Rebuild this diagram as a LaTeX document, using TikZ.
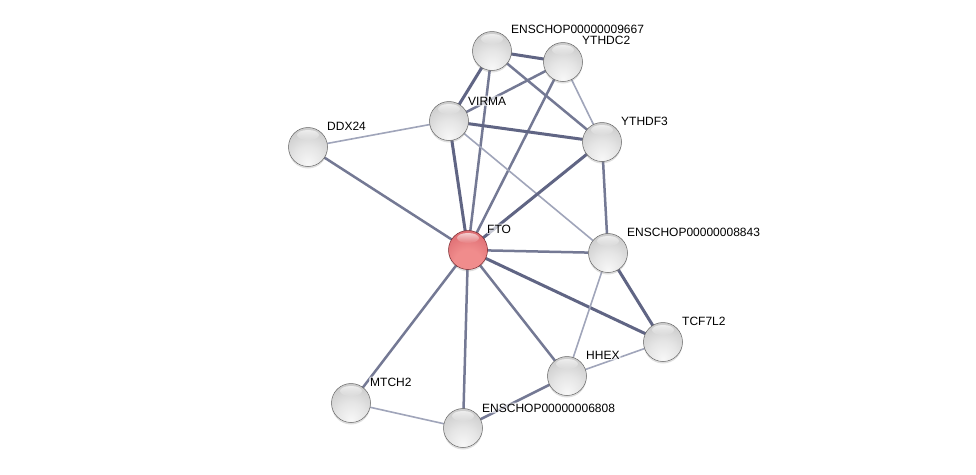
\documentclass[tikz,border=0pt]{standalone}
\usepackage{fontspec}
\setmainfont{Liberation Sans}
\usetikzlibrary{shadows,fadings}
\definecolor{edgeA}{RGB}{96,101,132}
\definecolor{edgeB}{RGB}{116,121,148}
\definecolor{edgeC}{RGB}{160,165,186}
\definecolor{rA}{RGB}{240,140,140}
\definecolor{rB}{RGB}{222,110,115}
\definecolor{rC}{RGB}{198,82,90}
\definecolor{rD}{RGB}{150,50,58}
\pgfdeclareradialshading{gsphere}{\pgfpoint{0bp}{-22bp}}{color(0bp)=(white!97!black); color(18bp)=(white!90!black); color(36bp)=(white!80!black); color(52bp)=(white!72!black); color(66bp)=(white!55!black); color(80bp)=(white!45!black)}
\pgfdeclareradialshading{rsphere}{\pgfpoint{0bp}{-22bp}}{color(0bp)=(rA); color(18bp)=(rA); color(36bp)=(rB); color(52bp)=(rC); color(66bp)=(rD); color(80bp)=(rD)}
\tikzfading[name=hlfade, top color=transparent!35, bottom color=transparent!100]
\pgfdeclarelayer{bg}
\pgfdeclarelayer{edges}
\pgfsetlayers{bg,edges,main}
\tikzset{
  ball/.style={circle, minimum size=39pt, inner sep=0pt, shading=gsphere, draw=white!40!black, line width=0.5pt,
    drop shadow={opacity=0.25, shadow xshift=0pt, shadow yshift=-2pt}},
  redball/.style={ball, shading=rsphere, draw=rD!80!black},
  lbl/.style={anchor=base west, font=\fontsize{12}{14}\selectfont, inner sep=1pt, fill=white, fill opacity=0.65, text opacity=1, rounded corners=2pt},
  eA/.style={draw=edgeA, line width=3pt},
  eB/.style={draw=edgeB, line width=2.5pt},
  eC/.style={draw=edgeC, line width=1.6pt},
}
\newcommand{\hl}[1]{\fill[white, path fading=hlfade] ([yshift=12pt]#1.center) ellipse (11pt and 5pt);}
\begin{document}
\begin{tikzpicture}[x=1pt,y=-1pt]
\useasboundingbox (0,0) rectangle (976,474);
\begin{pgfonlayer}{bg}
\fill[white] (0,0) rectangle (976,474);
\end{pgfonlayer}
% nodes
\node[ball] (n9667) at (492,51) {};
\node[ball] (ythdc2) at (563,62) {};
\node[ball] (virma) at (449,121) {};
\node[ball] (ddx24) at (308,147) {};
\node[ball] (ythdf3) at (602,142) {};
\node[redball] (fto) at (468,250) {};
\node[ball] (n8843) at (608,253) {};
\node[ball] (tcf) at (663,342) {};
\node[ball] (hhex) at (567,376) {};
\node[ball] (mtch2) at (351,403) {};
\node[ball] (n6808) at (463,428) {};
\foreach \n in {n9667,ythdc2,virma,ddx24,ythdf3,fto,n8843,tcf,hhex,mtch2,n6808}{\hl{\n}}
% labels
\node[lbl] (l9667) at (510,33) {ENSCHOP00000009667};
\node[lbl] (lythdc2) at (581,44) {YTHDC2};
\node[lbl] (lvirma) at (467,105) {VIRMA};
\node[lbl] (lddx24) at (326,130) {DDX24};
\node[lbl] (lythdf3) at (620,125) {YTHDF3};
\node[lbl] (lfto) at (486,233) {FTO};
\node[lbl] (l8843) at (626,236) {ENSCHOP00000008843};
\node[lbl] (ltcf) at (681,325) {TCF7L2};
\node[lbl] (lhhex) at (585,359) {HHEX};
\node[lbl] (lmtch2) at (369,386) {MTCH2};
\node[lbl] (l6808) at (481,412) {ENSCHOP00000006808};
% edges
\begin{pgfonlayer}{edges}
\draw[eA] (n9667.center) -- (ythdc2.center);
\draw[eA] (n9667.center) -- (virma.center);
\draw[eB] (n9667.center) -- (ythdf3.center);
\draw[eB] (n9667.center) -- (fto.center);
\draw[eB] (ythdc2.center) -- (virma.center);
\draw[eC] (ythdc2.center) -- (ythdf3.center);
\draw[eB] (ythdc2.center) -- (fto.center);
\draw[eA] (virma.center) -- (ythdf3.center);
\draw[eA] (virma.center) -- (fto.center);
\draw[eC] (virma.center) -- (ddx24.center);
\draw[eC] (virma.center) -- (n8843.center);
\draw[eA] (ythdf3.center) -- (fto.center);
\draw[eB] (ythdf3.center) -- (n8843.center);
\draw[eB] (ddx24.center) -- (fto.center);
\draw[eB] (fto.center) -- (n8843.center);
\draw[eA] (fto.center) -- (tcf.center);
\draw[eB] (fto.center) -- (hhex.center);
\draw[eB] (fto.center) -- (mtch2.center);
\draw[eB] (fto.center) -- (n6808.center);
\draw[eA] (n8843.center) -- (tcf.center);
\draw[eC] (n8843.center) -- (hhex.center);
\draw[eC] (tcf.center) -- (hhex.center);
\draw[eB] (hhex.center) -- (n6808.center);
\draw[eC] (mtch2.center) -- (n6808.center);
\end{pgfonlayer}
\end{tikzpicture}
\end{document}
